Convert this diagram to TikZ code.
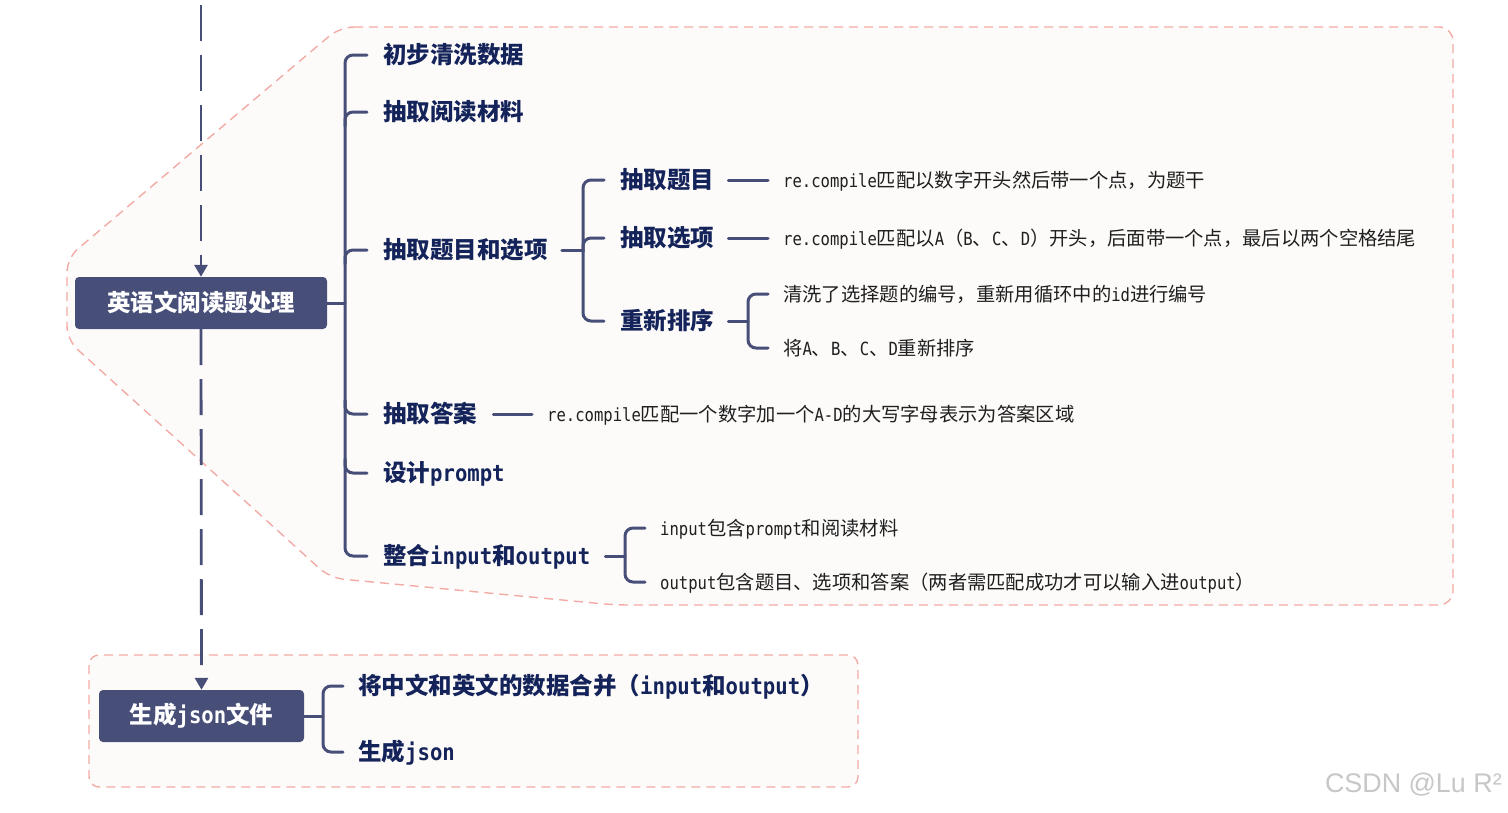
\documentclass[tikz,border=0pt]{standalone}
\usepackage{fontspec}
\usepackage{graphicx}
\usetikzlibrary{arrows.meta}
\newfontfamily\cjk{Noto Sans CJK SC}
\newfontfamily\lat{DejaVu Sans Mono}
\newfontfamily\wmfont{Liberation Sans}
\definecolor{linecol}{HTML}{474E78}
\definecolor{boxcol}{HTML}{474E78}
\definecolor{labcol}{HTML}{14245A}
\definecolor{txtcol}{HTML}{1F1F1F}
\definecolor{pinkcol}{HTML}{F2ABA5}
\definecolor{fillcol}{HTML}{FDFBFA}
\newcommand\LB[1]{\scalebox{0.9}[1]{\lat\fontsize{22.9}{23}\selectfont\bfseries #1}}
\newcommand\LS[1]{\scalebox{0.86}[1]{\lat\fontsize{18.1}{19}\selectfont #1}}
\tikzset{
  region/.style={draw=pinkcol, fill=fillcol, line width=1.4pt, dash pattern=on 9pt off 6pt},
  flow/.style={draw=linecol, line width=2.8pt, dash pattern=on 36pt off 14pt, -{Triangle[width=13pt,length=12pt]}},
  box/.style={fill=boxcol, rounded corners=4pt, text=white, inner sep=0pt,
    font=\cjk\fontsize{23.5}{24}\selectfont\bfseries},
  lab/.style={anchor=west, inner sep=0pt, text=labcol, text height=20pt, text depth=3pt,
    font=\cjk\fontsize{23.5}{24}\selectfont\bfseries},
  small/.style={anchor=west, inner sep=0pt, text=txtcol, text height=16.5pt, text depth=2.5pt,
    font=\cjk\fontsize{19.3}{20}\selectfont},
  conn/.style={draw=linecol, line width=3pt, line cap=round},
  bracket/.style={conn, rounded corners=8pt},
}
\begin{document}
\begin{tikzpicture}[x=1pt,y=-1pt]
\useasboundingbox (0,0) rectangle (1508,812);
% regions
\draw[region, rounded corners=14pt] (340,27) -- (1453,27) -- (1453,605) -- (615,605) -- (330,578) -- (67,340) -- (67,258) -- cycle;
\draw[region, rounded corners=10pt] (89,655) rectangle (858,787);
% boxes
\node[box, minimum width=252pt, minimum height=52pt] (root) at (201,303) {英语文阅读题处理};
\node[box, minimum width=205pt, minimum height=52pt] (gen) at (201.5,716) {生成\LB{json}文件};
\coordinate (top) at (201,5);
\draw[flow] (top) -- (root.north);
\draw[flow] (root.south) -- (gen.north);
% level 1 labels
\node[lab] (a1) at (383,55) {初步清洗数据};
\node[lab] (a2) at (383,112) {抽取阅读材料};
\node[lab] (a3) at (383,250) {抽取题目和选项};
\node[lab] (a4) at (383,414) {抽取答案};
\node[lab] (a5) at (383,473) {设计\LB{prompt}};
\node[lab] (a6) at (383,556) {整合\LB{input}和\LB{output}};
\coordinate (t1) at (345,303);
\draw[conn] (root.east) -- (t1);
\draw[bracket] ([xshift=-16pt]a1.west) -- (a1.west -| t1) -- (a6.west -| t1) -- ([xshift=-16pt]a6.west);
\draw[bracket] ([yshift=-14pt]a2.west -| t1) -- (a2.west -| t1) -- ([xshift=-16pt]a2.west);
\draw[bracket] ([yshift=-14pt]a3.west -| t1) -- (a3.west -| t1) -- ([xshift=-16pt]a3.west);
\draw[bracket] ([yshift=14pt]a4.west -| t1) -- (a4.west -| t1) -- ([xshift=-16pt]a4.west);
\draw[bracket] ([yshift=14pt]a5.west -| t1) -- (a5.west -| t1) -- ([xshift=-16pt]a5.west);
% level 2 under a3
\node[lab] (b1) at (620,180) {抽取题目};
\node[lab] (b2) at (620,238) {抽取选项};
\node[lab] (b3) at (620,321) {重新排序};
\coordinate (t2) at (583,250);
\draw[conn] ([xshift=14pt]a3.east) -- (t2);
\draw[bracket] ([xshift=-16pt]b1.west) -- (b1.west -| t2) -- (b3.west -| t2) -- ([xshift=-16pt]b3.west);
\draw[bracket] ([yshift=-14pt]b2.west -| t2) -- (b2.west -| t2) -- ([xshift=-16pt]b2.west);
% details
\node[small] (c1) at (783,180) {\LS{re.compile}匹配以数字开头然后带一个点，为题干};
\node[small] (c2) at (783,238) {\LS{re.compile}匹配以\LS{A}（\LS{B}、\LS{C}、\LS{D}）开头，后面带一个点，最后以两个空格结尾};
\draw[conn] ([xshift=14pt]b1.east) -- ([xshift=-15pt]c1.west);
\draw[conn] ([xshift=14pt]b2.east) -- ([xshift=-15pt]c2.west);
\node[small] (c3) at (783,294) {清洗了选择题的编号，重新用循环中的\LS{id}进行编号};
\node[small] (c4) at (783,348) {将\LS{A}、\LS{B}、\LS{C}、\LS{D}重新排序};
\coordinate (t3) at (748,321);
\draw[conn] ([xshift=14pt]b3.east) -- (t3);
\draw[bracket] ([xshift=-15pt]c3.west) -- (c3.west -| t3) -- (c4.west -| t3) -- ([xshift=-15pt]c4.west);
\node[small] (c5) at (547,414) {\LS{re.compile}匹配一个数字加一个\LS{A-D}的大写字母表示为答案区域};
\draw[conn] ([xshift=16pt]a4.east) -- ([xshift=-15pt]c5.west);
\node[small] (c6) at (660,528) {\LS{input}包含\LS{prompt}和阅读材料};
\node[small] (c7) at (660,582) {\LS{output}包含题目、选项和答案（两者需匹配成功才可以输入进\LS{output}）};
\coordinate (t4) at (625,556);
\draw[conn] ([xshift=15pt]a6.east) -- (t4);
\draw[bracket] ([xshift=-15pt]c6.west) -- (c6.west -| t4) -- (c7.west -| t4) -- ([xshift=-15pt]c7.west);
% second box
\node[lab] (d1) at (358,686) {将中文和英文的数据合并（\LB{input}和\LB{output}）};
\node[lab] (d2) at (358,752) {生成\LB{json}};
\coordinate (t5) at (323,716);
\draw[conn] (gen.east) -- (t5);
\draw[bracket] ([xshift=-15pt]d1.west) -- (d1.west -| t5) -- (d2.west -| t5) -- ([xshift=-15pt]d2.west);
% watermark
\node[anchor=east, inner sep=0pt, text=black!22, font=\wmfont\fontsize{26.9}{27}\selectfont] (wm) at (1502,785) {CSDN @Lu R²};
\end{tikzpicture}
\end{document}
